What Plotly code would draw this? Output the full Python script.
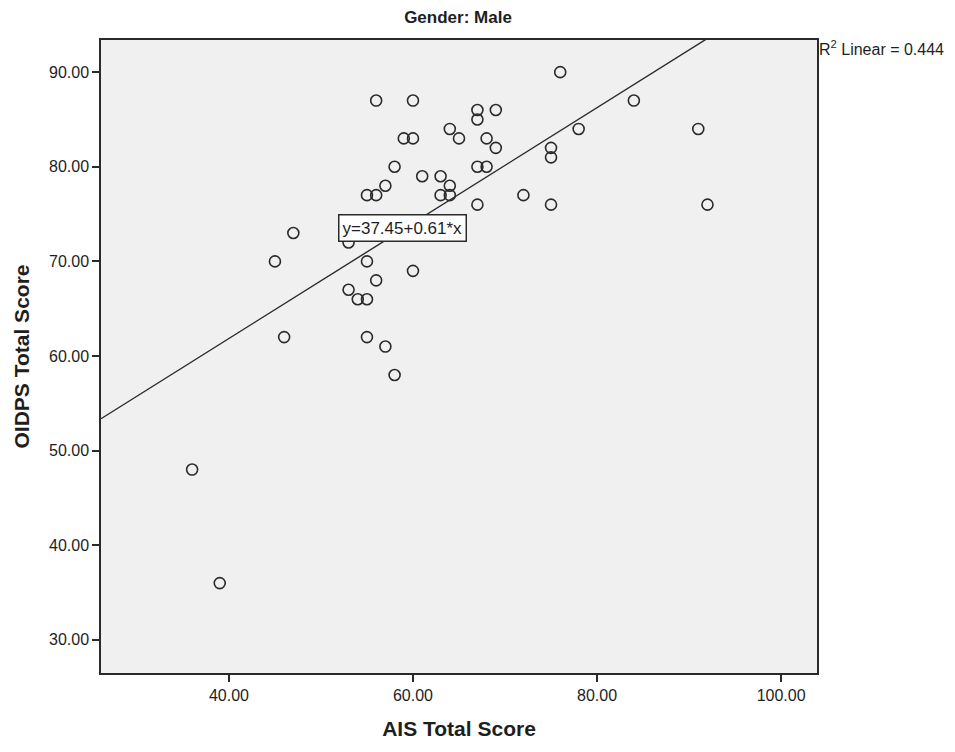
import plotly.graph_objects as go

# Data
ais = [36, 39, 45, 46, 47, 53, 53, 54, 55, 55, 55, 55, 56, 56, 56, 57, 57, 58, 58,
       59, 60, 60, 60, 61, 63, 63, 64, 64, 64, 65, 67, 67, 67, 67, 68, 68, 69, 69,
       72, 75, 75, 75, 76, 78, 84, 91, 92]
oidps = [48, 36, 70, 62, 73, 67, 72, 66, 66, 62, 70, 77, 77, 87, 68, 78, 61, 80, 58,
         83, 83, 87, 69, 79, 79, 77, 78, 77, 84, 83, 86, 85, 80, 76, 83, 80, 86, 82,
         77, 82, 81, 76, 90, 84, 87, 84, 76]

intercept = 37.45
slope = 0.61
r_squared = 0.444

x_ticks = [40, 60, 80, 100]
y_ticks = [30, 40, 50, 60, 70, 80, 90]
x_range = [26.1, 103.9]
y_range = [26.5, 93.4]

title_text = "Gender: Male"
x_title = "AIS Total Score"
y_title = "OIDPS Total Score"

W, H = 955, 752
OFF = 8  # page body offset

fig = go.Figure()

# regression line across the x range
line_x = [x_range[0], x_range[1]]
line_y = [intercept + slope * v for v in line_x]
fig.add_trace(go.Scatter(x=line_x, y=line_y, mode="lines",
                         line=dict(color="#2a2a2a", width=1.4),
                         hoverinfo="skip", showlegend=False))

fig.add_trace(go.Scatter(x=ais, y=oidps, mode="markers",
                         marker=dict(symbol="circle-open", size=11,
                                     color="#2a2a2a",
                                     line=dict(width=1.6, color="#2a2a2a")),
                         showlegend=False))

font_family = "Liberation Sans, Arial, sans-serif"
txt = "#1e1e1e"

m_l = 101 - OFF
m_t = 39.5 - OFF
m_r = W - (817 - OFF)
m_b = H - (673 - OFF)

fig.update_layout(
    width=W, height=H,
    margin=dict(l=m_l, r=m_r, t=m_t, b=m_b),
    paper_bgcolor="white",
    plot_bgcolor="#F0F0F0",
    font=dict(family=font_family, size=16, color=txt),
    title=dict(text="<b>" + title_text + "</b>", x=(458 - OFF) / W,
               xanchor="center", xref="container", yref="container",
               y=1 - (17 - OFF) / H, yanchor="middle",
               font=dict(size=17, color=txt, family=font_family)),
    showlegend=False,
)

fig.update_xaxes(range=x_range, tickvals=x_ticks, tickformat=".2f",
                 showgrid=False, zeroline=False,
                 showline=True, linecolor="#2a2a2a", linewidth=1.5, mirror=True,
                 ticks="outside", ticklen=7, tickcolor="#2a2a2a", tickwidth=1.5,
                 tickfont=dict(size=16, color=txt),
                 title=dict(text="<b>" + x_title + "</b>",
                            font=dict(size=21, color=txt), standoff=18))
fig.update_yaxes(range=y_range, tickvals=y_ticks, tickformat=".2f",
                 showgrid=False, zeroline=False,
                 showline=True, linecolor="#2a2a2a", linewidth=1.5, mirror=True,
                 ticks="outside", ticklen=7, tickcolor="#2a2a2a", tickwidth=1.5,
                 tickfont=dict(size=16, color=txt),
                 title=dict(text="<b>" + y_title + "</b>",
                            font=dict(size=21, color=txt), standoff=14))

plot_h = H - m_t - m_b
fig.add_annotation(text="R<sup>2</sup> Linear = %.3f" % r_squared,
                   xref="paper", yref="paper", x=1.0, xshift=0,
                   y=1 - 8.5 / plot_h,
                   xanchor="left", yanchor="middle", showarrow=False,
                   font=dict(size=16, color=txt))

fig.add_annotation(text="y=%.2f+%.2f*x" % (intercept, slope),
                   xref="x", yref="y", x=58.9, y=73.5,
                   xanchor="center", yanchor="middle", showarrow=False,
                   bgcolor="white", bordercolor="#2a2a2a", borderwidth=1.5,
                   borderpad=3, font=dict(size=17, color=txt))

fig.write_html("out.html")
